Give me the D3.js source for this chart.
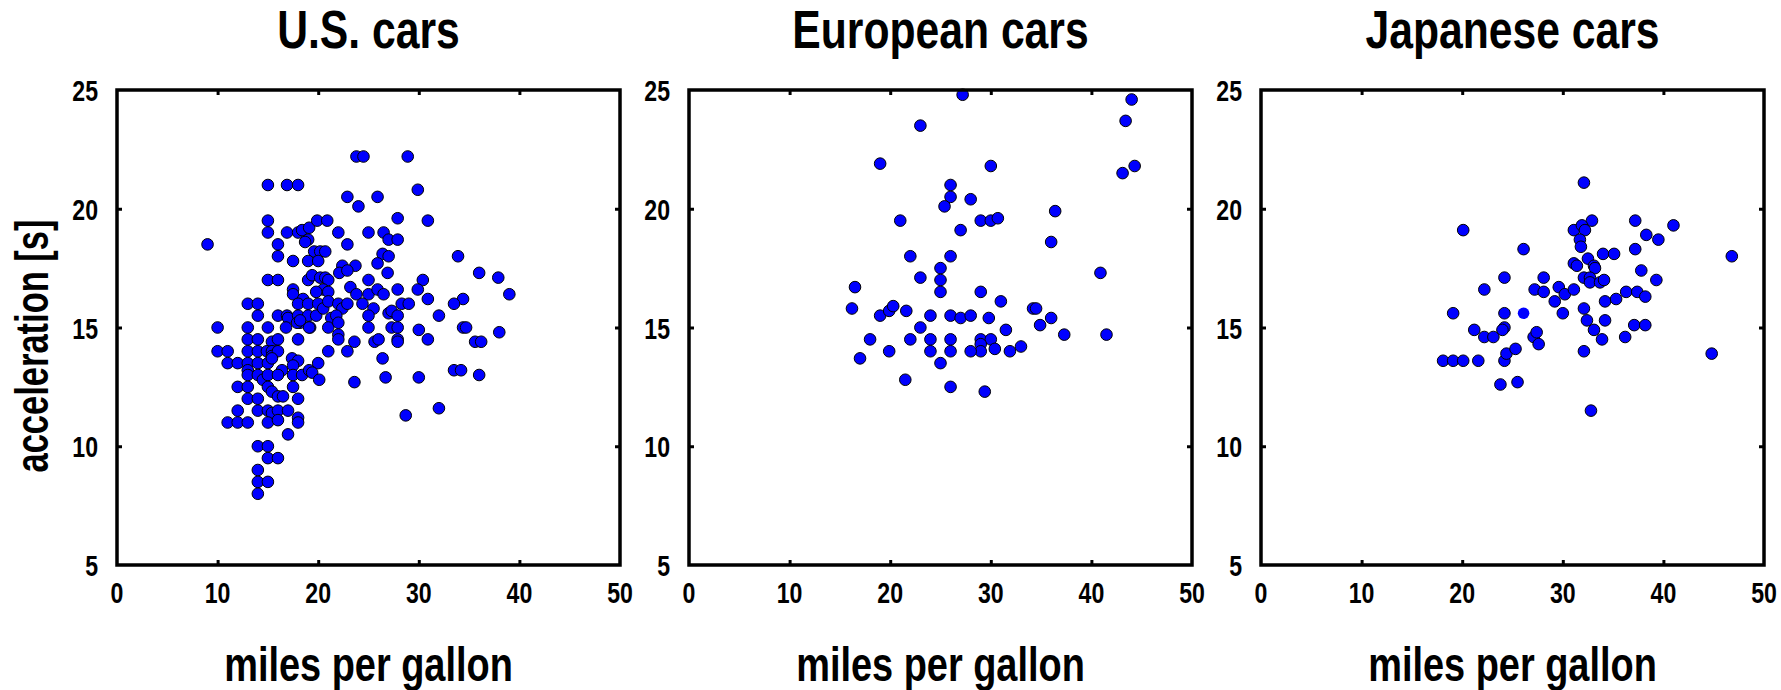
<!DOCTYPE html>
<html><head><meta charset="utf-8">
<script src="https://cdn.jsdelivr.net/npm/d3@7"></script>
<style>
html,body{margin:0;padding:0;background:#fff;}
svg text{font-family:"Liberation Sans",Arial,sans-serif;font-weight:bold;fill:#000;}
</style></head>
<body><svg id="chart" width="1781" height="690"></svg>
<script>
// ---- data: [miles per gallon, acceleration (s)] ----
const titles = ["U.S. cars", "European cars", "Japanese cars"];
const xTicks = [0, 10, 20, 30, 40, 50];
const yTicks = [5, 10, 15, 20, 25];
const xLabel = "miles per gallon";
const yLabel = "acceleration [s]";

const usCars = [
[23.8,22.2],[15,21],[16.9,21],[18,21],[22.9,20.5],[24,20.1],
[15,19.5],[15,19],[16.9,19],[18,19],[18.4,19.1],[19.1,19.2],[19.9,19.5],[20.9,19.5],[22,19],
[19,18.7],[18.7,18.6],[9,18.5],[16,18.5],[16,18],[17.5,17.8],
[19.6,18.2],[20.2,18.2],[20.7,18.2],[19,17.8],[20,17.8],[22.9,18.5],[22.4,17.6],[23.7,17.6],
[15,17],[16,17],[19,17],[19.4,17.2],[20.2,17.1],[20.7,17.1],[21,17],[22.1,17.3],[22.9,17.4],[23.2,16.7],[23.8,16.4],
[17.5,16.6],[17.5,16.4],[20.5,16.6],[18.5,16.2],[19.8,16.5],[21,16.5],
[13,16],[14,16],[14,15.5],[16,15.5],[16.9,15.5],[17,15.4],[18,15.5],[18.2,15.2],[19,15.5],[19.8,15.5],
[18,16],[19,16],[20,16],[20.5,15.8],[21,16.1],[22,16],[22.4,15.8],[22.9,16],
[21.3,15.4],[21.8,15.5],
[10,15],[13,15],[15,15],[16.8,15],[19.2,15],[21,15],
[24.5,22.2],[28.9,22.2],[29.9,20.8],[25.9,20.5],[27.9,19.6],[30.9,19.5],[25,19],[26.5,19],[27,18.7],[27.9,18.7],
[26.4,18.1],[27,18],[25.9,17.7],[33.9,18],[26.9,17.3],[36,17.3],[37.9,17.1],[25,17],[30.4,17],[25,16.4],
[25.9,16.6],[26.5,16.4],[27.9,16.6],[29.9,16.6],[30.9,16.2],[39,16.4],[34.4,16.2],[33.5,16],[24.4,16],[25.5,15.8],
[28.3,16],[29,16],[27,15.6],[27.3,15.7],[27.9,15.5],[25,15.5],[32,15.5],[25,15],[27.3,15],[27.9,15],
[30,14.9],[34.4,15],[34.7,15],[38,14.8],
[30.9,14.5],[23.6,14.4],[25.6,14.4],[26,14.5],[27.9,14.5],[27.9,14.4],[35.6,14.4],[36.2,14.4],[26.4,13.7],
[23.6,12.7],[26.7,12.9],[30,12.9],[33.5,13.2],[34.2,13.2],[36,13],[32,11.6],[28.7,11.3],
[17.9,15.2],[18.2,15.3],[19.1,15],[22,15.2],
[13,14.5],[14,14.5],[15.4,14.4],[16,14.5],[18,14.5],[22,14.7],[22,14.5],
[10,14],[11,14],[13,14],[14,14],[14.9,14],[15.4,14],[15.4,13.8],[16,14],[21,14],[22.9,14],
[11,13.5],[12,13.5],[13,13.5],[14,13.5],[15,13.5],[15.4,13.7],[17.4,13.7],[18,13.6],[17.5,13.4],[16.4,13.2],[20,13.5],
[13,13.2],[13,13],[14,13],[14.5,12.8],[15,13],[16,13],[17.5,13],[18.4,13],[19.1,13.2],[19.4,13.1],[20.1,12.8],
[12,12.5],[13,12.5],[17.5,12.5],[15,12.5],[15.4,12.3],[16,12.1],[16.5,12.1],
[13,12],[14,12],[18,12],
[12,11.5],[14,11.5],[15,11.5],[15.4,11.4],[16,11.5],[17,11.5],
[11,11],[12,11],[13,11],[15,11],[16,11.1],[18,11.2],[18,11],
[17,10.5],[14,10],[15,10],[15,9.5],[16,9.5],[14,9],[14,8.5],[15,8.5],[14,8]
];

const europeanCars = [
[27.2,24.8],[44,24.6],[43.4,23.7],[23,23.5],[19,21.9],[30,21.8],[43.1,21.5],[44.3,21.8],[26,21],[26,20.5],
[25.4,20.1],[28,20.4],[21,19.5],[29,19.5],[30,19.5],[30.7,19.6],[36.4,19.9],[27,19.1],[36,18.6],[22,18],
[26,18],[25,17.5],[23,17.1],[25,17],[25,16.5],[40.9,17.3],[16.5,16.7],[29,16.5],[31,16.1],[16.2,15.8],
[19,15.5],[19.9,15.7],[20.3,15.9],[21.6,15.7],[24,15.5],[26,15.5],[27,15.4],[28,15.5],[29.8,15.4],[34.2,15.8],
[34.5,15.8],[36,15.4],[34.9,15.1],[23,15],[31.5,14.9],[18,14.5],[22,14.5],[24,14.5],[26,14.5],[29,14.5],
[30,14.5],[29,14.3],[29,14],[30.4,14.1],[31.9,14],[33,14.2],[37.3,14.7],[41.5,14.7],[19.9,14],[24,14],
[26,14],[28,14],[17,13.7],[25,13.5],[21.5,12.8],[26,12.5],[29.4,12.3]
];

const japaneseCars = [
[32.1,21.1],[20.1,19.1],[32.9,19.5],[31.1,19.1],[31.9,19.3],[32.2,19.1],[37.2,19.5],[41,19.3],[38.3,18.9],[39.5,18.7],
[31.7,18.7],[31.8,18.4],[26.1,18.3],[34,18.1],[35.1,18.1],[37.2,18.3],[46.8,18],[31.1,17.7],[31.4,17.6],[32.5,17.9],
[33.1,17.6],[33.2,17.5],[37.8,17.4],[39.3,17],[24.2,17.1],[28.1,17.1],[32.1,17.1],[32.7,17.1],[32.7,16.9],[33.7,16.9],
[34.1,17],[22.2,16.6],[27.2,16.6],[28.1,16.5],[29.6,16.7],[30.2,16.4],[31.1,16.6],[29.2,16.1],[34.2,16.1],[35.3,16.2],
[36.3,16.5],[37.4,16.5],[38.2,16.3],[19.1,15.6],[24.2,15.6],[30,15.6],[32.1,15.8],[32.4,15.3],[34.2,15.3],[37.1,15.1],
[38.2,15.1],[33.1,14.9],[33.9,14.5],[36.2,14.6],[21.2,14.9],[22.2,14.6],[23.1,14.6],[24.2,15],[24,14.9],[27.1,14.6],
[27.4,14.8],[27.6,14.3],[18.1,13.6],[19.1,13.6],[20.1,13.6],[21.6,13.6],[24.2,13.6],[24.4,13.9],[25.3,14.1],[32.1,14],
[44.8,13.9],[23.8,12.6],[25.5,12.7],[32.8,11.5]
];
// one Japanese point drawn without an outline in the original
const japaneseNoEdge = [[26.1,15.6]];

const panels = [
  {title: titles[0], data: usCars, extra: []},
  {title: titles[1], data: europeanCars, extra: []},
  {title: titles[2], data: japaneseCars, extra: japaneseNoEdge}
];

// ---- layout ----
const svg = d3.select("#chart");
const panelLeft = [117, 689, 1261];
const pw = 503, pTop = 90, ph = 475;

function condensedText(g, x, y, txt, size, sx, anchor, rotate) {
  const t = g.append("g").attr("transform",
      `translate(${x},${y})` + (rotate ? ` rotate(${rotate})` : "") + ` scale(${sx},1)`);
  t.append("text").attr("text-anchor", anchor).attr("font-size", size).text(txt);
}

panels.forEach((p, i) => {
  const g = svg.append("g").attr("transform", `translate(${panelLeft[i]},${pTop})`);
  const x = d3.scaleLinear().domain([0, 50]).range([0, pw]);
  const y = d3.scaleLinear().domain([5, 25]).range([ph, 0]);

  // points
  g.append("g").selectAll("circle").data(p.data).join("circle")
    .attr("cx", d => x(d[0])).attr("cy", d => y(d[1])).attr("r", 5.8)
    .attr("fill", "#0000ff").attr("stroke", "#000").attr("stroke-width", 1);
  g.append("g").selectAll("circle").data(p.extra).join("circle")
    .attr("cx", d => x(d[0])).attr("cy", d => y(d[1])).attr("r", 5.8)
    .attr("fill", "#0000ff");

  // inward ticks on all sides
  const inner = xTicks.slice(1, -1), innerY = yTicks.slice(1, -1);
  const axB = d3.axisBottom(x).tickValues(inner).tickSize(-5).tickFormat("");
  const axT = d3.axisTop(x).tickValues(inner).tickSize(-5).tickFormat("");
  const axL = d3.axisLeft(y).tickValues(innerY).tickSize(-5).tickFormat("");
  const axR = d3.axisRight(y).tickValues(innerY).tickSize(-5).tickFormat("");
  [[axB, `translate(0,${ph})`], [axT, "translate(0,0)"], [axL, "translate(0,0)"], [axR, `translate(${pw},0)`]]
    .forEach(([ax, tr]) => {
      const a = g.append("g").attr("transform", tr).call(ax);
      a.select(".domain").remove();
      a.selectAll("line").attr("stroke", "#000").attr("stroke-width", 3);
    });

  // frame
  g.append("rect").attr("x", 0).attr("y", 0).attr("width", pw).attr("height", ph)
    .attr("fill", "none").attr("stroke", "#000").attr("stroke-width", 3.5);

  // tick labels
  xTicks.forEach(v => condensedText(g, x(v), ph + 38, String(v), 30, 0.77, "middle"));
  yTicks.forEach(v => condensedText(g, -19, y(v) + 11, String(v), 30, 0.77, "end"));

  // titles and axis labels
  condensedText(g, pw / 2, 48 - pTop, p.title, 54, 0.79, "middle");
  condensedText(g, pw / 2, 681 - pTop, xLabel, 48, 0.79, "middle");
});
condensedText(svg, 48, 346, yLabel, 46, 0.75, "middle", -90);
</script></body></html>
